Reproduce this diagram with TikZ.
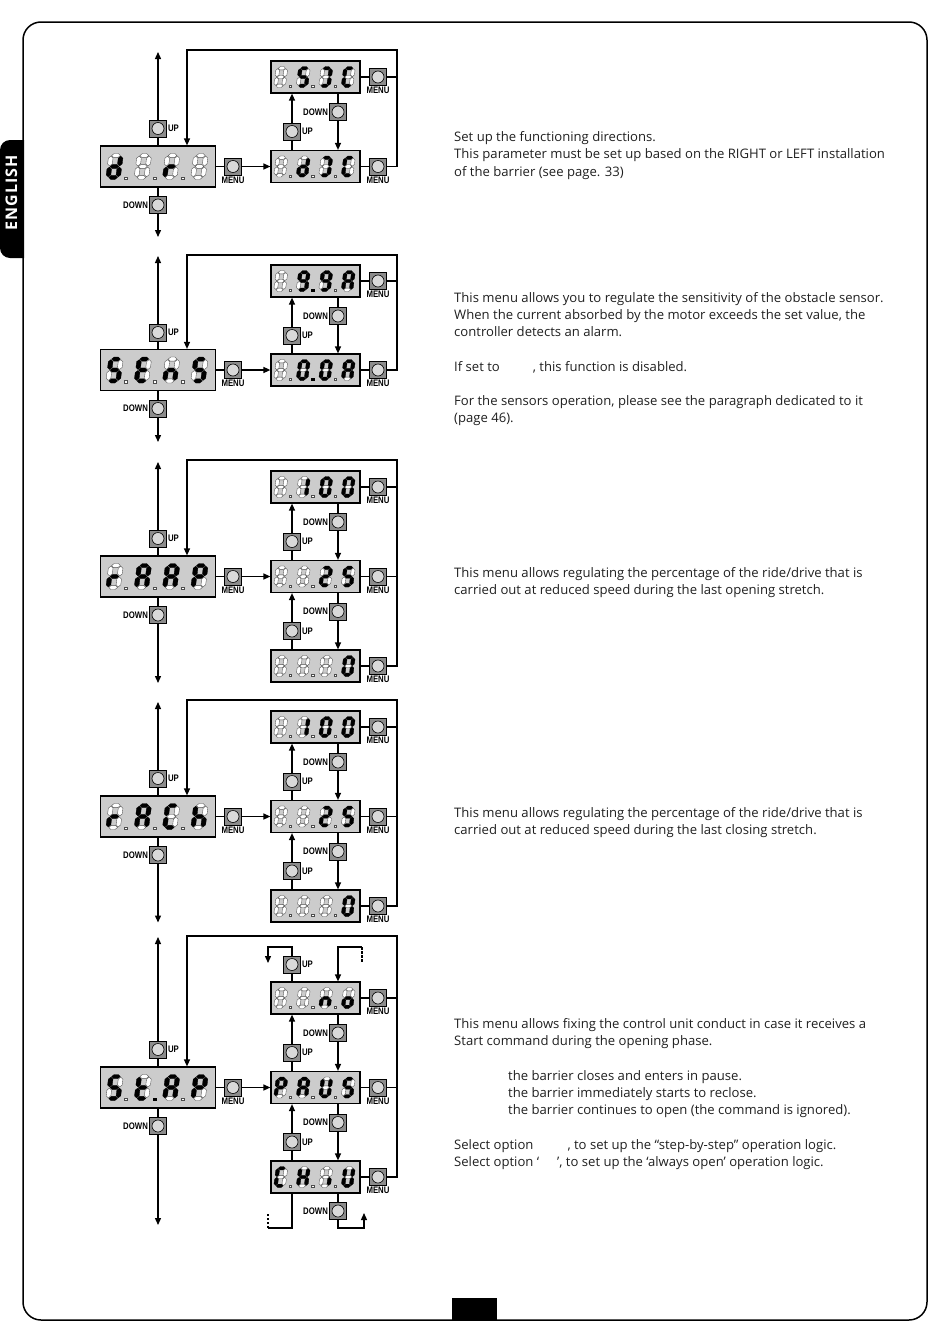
\documentclass[tikz,border=0pt]{standalone}
\usepackage{fontspec}
\setmainfont{Open Sans}
\newfontfamily\lblfont[FakeStretch=0.82]{Liberation Sans}
\newfontfamily\tabfont[LetterSpace=6]{Open Sans}
\usetikzlibrary{arrows.meta}
\definecolor{dispfill}{gray}{0.80}
\definecolor{btnfill}{gray}{0.55}
\definecolor{knob}{gray}{0.85}
\definecolor{txtcol}{gray}{0.12}
\tikzset{
 ln/.style={line width=1.3pt},
 arr/.style={ln,-{Triangle[length=7pt,width=6pt]}},
 dispM/.style={draw,line width=1.2pt,fill=dispfill,minimum width=115pt,minimum height=41pt,inner sep=0pt},
 dispR/.style={draw,line width=1.2pt,fill=dispfill,minimum width=89pt,minimum height=32pt,inner sep=0pt},
 btn/.style={draw,line width=0.8pt,fill=btnfill,minimum size=17pt,inner sep=0pt,
   path picture={\filldraw[fill=knob,line width=0.6pt] (path picture bounding box.center) circle (6pt);}},
 lbl/.style={font=\lblfont\bfseries\fontsize{9.5}{10}\selectfont,inner sep=1pt},
 segon/.style={fill=black,draw=black,line width=0.3pt},
 segoff/.style={fill=white,draw=black!70,line width=0.35pt},
 txt/.style={font=\fontsize{13.1}{15}\selectfont,text=txtcol,inner sep=0pt,anchor=base west},
}
\makeatletter
\newcommand\segx[3]{\in@{#1}{#2}\ifin@\filldraw[segon] #3;\else\filldraw[segoff] #3;\fi}
\newcommand\sdigit[4]{%
 \begin{scope}[shift={(#1,#2)},x={(1.12*#3pt,0pt)},y={(0.13*#3pt,#3pt)}]
 \segx{a}{#4}{(-0.30,0.84)--(-0.14,1.0)--(0.14,1.0)--(0.30,0.84)--(0.14,0.68)--(-0.14,0.68)--cycle}
 \segx{g}{#4}{(-0.30,0)--(-0.14,0.16)--(0.14,0.16)--(0.30,0)--(0.14,-0.16)--(-0.14,-0.16)--cycle}
 \segx{d}{#4}{(-0.30,-0.84)--(-0.14,-0.68)--(0.14,-0.68)--(0.30,-0.84)--(0.14,-1.0)--(-0.14,-1.0)--cycle}
 \segx{f}{#4}{(-0.34,0.04)--(-0.18,0.20)--(-0.18,0.64)--(-0.34,0.80)--(-0.50,0.64)--(-0.50,0.20)--cycle}
 \segx{b}{#4}{(0.34,0.04)--(0.50,0.20)--(0.50,0.64)--(0.34,0.80)--(0.18,0.64)--(0.18,0.20)--cycle}
 \segx{e}{#4}{(-0.34,-0.80)--(-0.18,-0.64)--(-0.18,-0.20)--(-0.34,-0.04)--(-0.50,-0.20)--(-0.50,-0.64)--cycle}
 \segx{c}{#4}{(0.34,-0.80)--(0.50,-0.64)--(0.50,-0.20)--(0.34,-0.04)--(0.18,-0.20)--(0.18,-0.64)--cycle}
 \in@{q}{#4}\ifin@\else\segx{p}{#4}{(0.80,-1.0) rectangle (0.98,-0.80)}\fi
 \end{scope}}
\makeatother
\newcommand\sdisp[7]{%
 \begin{scope}[shift={(#1.center)}]
 \sdigit{-1.5*#3-1}{0}{#2}{#4}
 \sdigit{-0.5*#3-1}{0}{#2}{#5}
 \sdigit{0.5*#3-1}{0}{#2}{#6}
 \sdigit{1.5*#3-1}{0}{#2}{#7q}
 \end{scope}}
\begin{document}
\begin{tikzpicture}[x=1pt,y=-1pt]
\useasboundingbox (0,0) rectangle (950,1344);
% frame
\draw[line width=1.5pt,rounded corners=18pt] (23,22) rectangle (927,1320);
\fill (24,140) -- (10,140) arc[start angle=270,end angle=180,radius=10] -- (0,248) arc[start angle=180,end angle=90,radius=10] -- (24,258) -- cycle;
\node[rotate=90,text=white,font=\tabfont\bfseries\fontsize{16}{16}\selectfont,inner sep=0pt] (tab) at (11.5,193) {ENGLISH};
\fill (452,1298) rectangle (497,1320);

% ================= Block A (dir)
\node[dispM] (Am) at (158,166.5) {};
\node[btn,label={[lbl]east:UP}] (Au) at (158,128.5) {};
\node[btn,label={[lbl]west:DOWN}] (Ad) at (158,205) {};
\node[btn,label={[lbl]below:MENU}] (Amm) at (233,166.5) {};
\node[dispR] (Ar1) at (315.5,77) {};
\node[dispR] (Ar2) at (315.5,166.5) {};
\node[btn,label={[lbl]below:MENU}] (Amr1) at (378,77) {};
\node[btn,label={[lbl]below:MENU}] (Amr2) at (378,166.5) {};
\node[btn,label={[lbl]east:UP}] (Au1) at (292,131.5) {};
\node[btn,label={[lbl]west:DOWN}] (Ad1) at (338,112) {};
\coordinate (Aut) at (158,52);
\coordinate (Adt) at (158,237);
\coordinate (Alt) at (397,50);
\coordinate (Ain) at (187,50);
\draw[ln] (Am) -- (Au); \draw[arr] (Au) -- (Aut);
\draw[ln] (Am) -- (Ad); \draw[arr] (Ad) -- (Adt);
\draw[ln] (Am) -- (Amm); \draw[arr] (Amm) -- (Ar2);
\draw[ln] (Ar1) -- (Amr1); \draw[ln] (Ar2) -- (Amr2);
\draw[ln] (Amr1) -- (Amr1 -| Alt);
\draw[arr] (Amr2) -- (Amr2 -| Alt) -- (Alt) -- (Ain) -- (Ain |- Am.north);
\draw[ln] (Ar2.north -| Au1) -- (Au1); \draw[arr] (Au1) -- (Ar1.south -| Au1);
\draw[ln] (Ar1.south -| Ad1) -- (Ad1); \draw[arr] (Ad1) -- (Ar2.north -| Ad1);
\sdisp{Am}{13}{28.3}{bcdeg}{}{eg}{}
\sdisp{Ar1}{10.5}{22.5}{}{acdfg}{abcd}{adef}
\sdisp{Ar2}{10.5}{22.5}{}{bcdeg}{abcd}{adef}

% ================= Block B (sens)
\node[dispM] (Bm) at (158,370) {};
\node[btn,label={[lbl]east:UP}] (Bu) at (158,332.5) {};
\node[btn,label={[lbl]west:DOWN}] (Bd) at (158,408.5) {};
\node[btn,label={[lbl]below:MENU}] (Bmm) at (233,370) {};
\node[dispR] (Br1) at (315.5,281) {};
\node[dispR] (Br2) at (315.5,370) {};
\node[btn,label={[lbl]below:MENU}] (Bmr1) at (378,281) {};
\node[btn,label={[lbl]below:MENU}] (Bmr2) at (378,370) {};
\node[btn,label={[lbl]east:UP}] (Bu1) at (292,335.5) {};
\node[btn,label={[lbl]west:DOWN}] (Bd1) at (338,316) {};
\coordinate (But) at (158,256);
\coordinate (Bdt) at (158,442);
\coordinate (Blt) at (397,255);
\coordinate (Bin) at (187,255);
\draw[ln] (Bm) -- (Bu); \draw[arr] (Bu) -- (But);
\draw[ln] (Bm) -- (Bd); \draw[arr] (Bd) -- (Bdt);
\draw[ln] (Bm) -- (Bmm); \draw[arr] (Bmm) -- (Br2);
\draw[ln] (Br1) -- (Bmr1); \draw[ln] (Br2) -- (Bmr2);
\draw[ln] (Bmr1) -- (Bmr1 -| Blt);
\draw[arr] (Bmr2) -- (Bmr2 -| Blt) -- (Blt) -- (Bin) -- (Bin |- Bm.north);
\draw[ln] (Br2.north -| Bu1) -- (Bu1); \draw[arr] (Bu1) -- (Br1.south -| Bu1);
\draw[ln] (Br1.south -| Bd1) -- (Bd1); \draw[arr] (Bd1) -- (Br2.north -| Bd1);
\sdisp{Bm}{13}{28.3}{acdfg}{adefg}{ceg}{acdfg}
\sdisp{Br1}{10.5}{22.5}{}{abcdfgp}{abcdfg}{abcefg}
\sdisp{Br2}{10.5}{22.5}{}{abcdefp}{abcdef}{abcefg}

% ================= Block C (rAAP)
\node[dispM] (Cm) at (158,576.5) {};
\node[btn,label={[lbl]east:UP}] (Cu) at (158,538.5) {};
\node[btn,label={[lbl]west:DOWN}] (Cd) at (158,615) {};
\node[btn,label={[lbl]below:MENU}] (Cmm) at (233,576.5) {};
\node[dispR] (Cr1) at (315.5,487) {};
\node[dispR] (Cr2) at (315.5,576.5) {};
\node[dispR] (Cr3) at (315.5,666) {};
\node[btn,label={[lbl]below:MENU}] (Cmr1) at (378,487) {};
\node[btn,label={[lbl]below:MENU}] (Cmr2) at (378,576.5) {};
\node[btn,label={[lbl]below:MENU}] (Cmr3) at (378,666) {};
\node[btn,label={[lbl]east:UP}] (Cu1) at (292,541.5) {};
\node[btn,label={[lbl]west:DOWN}] (Cd1) at (338,522) {};
\node[btn,label={[lbl]east:UP}] (Cu2) at (292,631) {};
\node[btn,label={[lbl]west:DOWN}] (Cd2) at (338,611.5) {};
\coordinate (Cut) at (158,462);
\coordinate (Cdt) at (158,683);
\coordinate (Clt) at (397,460);
\coordinate (Cin) at (187,460);
\draw[ln] (Cm) -- (Cu); \draw[arr] (Cu) -- (Cut);
\draw[ln] (Cm) -- (Cd); \draw[arr] (Cd) -- (Cdt);
\draw[ln] (Cm) -- (Cmm); \draw[arr] (Cmm) -- (Cr2);
\draw[ln] (Cr1) -- (Cmr1); \draw[ln] (Cr2) -- (Cmr2); \draw[ln] (Cr3) -- (Cmr3);
\draw[ln] (Cmr1) -- (Cmr1 -| Clt); \draw[ln] (Cmr2) -- (Cmr2 -| Clt);
\draw[arr] (Cmr3) -- (Cmr3 -| Clt) -- (Clt) -- (Cin) -- (Cin |- Cm.north);
\draw[ln] (Cr2.north -| Cu1) -- (Cu1); \draw[arr] (Cu1) -- (Cr1.south -| Cu1);
\draw[ln] (Cr1.south -| Cd1) -- (Cd1); \draw[arr] (Cd1) -- (Cr2.north -| Cd1);
\draw[ln] (Cr3.north -| Cu2) -- (Cu2); \draw[arr] (Cu2) -- (Cr2.south -| Cu2);
\draw[ln] (Cr2.south -| Cd2) -- (Cd2); \draw[arr] (Cd2) -- (Cr3.north -| Cd2);
\sdisp{Cm}{13}{28.3}{eg}{abcefg}{abcefg}{abefg}
\sdisp{Cr1}{10.5}{22.5}{}{bc}{abcdef}{abcdef}
\sdisp{Cr2}{10.5}{22.5}{}{}{abdeg}{acdfg}
\sdisp{Cr3}{10.5}{22.5}{}{}{}{abcdef}

% ================= Block D (rACh)
\node[dispM] (Dm) at (158,816.5) {};
\node[btn,label={[lbl]east:UP}] (Du) at (158,778.5) {};
\node[btn,label={[lbl]west:DOWN}] (Dd) at (158,855) {};
\node[btn,label={[lbl]below:MENU}] (Dmm) at (233,816.5) {};
\node[dispR] (Dr1) at (315.5,727) {};
\node[dispR] (Dr2) at (315.5,816.5) {};
\node[dispR] (Dr3) at (315.5,906) {};
\node[btn,label={[lbl]below:MENU}] (Dmr1) at (378,727) {};
\node[btn,label={[lbl]below:MENU}] (Dmr2) at (378,816.5) {};
\node[btn,label={[lbl]below:MENU}] (Dmr3) at (378,906) {};
\node[btn,label={[lbl]east:UP}] (Du1) at (292,781.5) {};
\node[btn,label={[lbl]west:DOWN}] (Dd1) at (338,762) {};
\node[btn,label={[lbl]east:UP}] (Du2) at (292,871) {};
\node[btn,label={[lbl]west:DOWN}] (Dd2) at (338,851.5) {};
\coordinate (Dut) at (158,702);
\coordinate (Ddt) at (158,922.5);
\coordinate (Dlt) at (397,700);
\coordinate (Din) at (187,700);
\draw[ln] (Dm) -- (Du); \draw[arr] (Du) -- (Dut);
\draw[ln] (Dm) -- (Dd); \draw[arr] (Dd) -- (Ddt);
\draw[ln] (Dm) -- (Dmm); \draw[arr] (Dmm) -- (Dr2);
\draw[ln] (Dr1) -- (Dmr1); \draw[ln] (Dr2) -- (Dmr2); \draw[ln] (Dr3) -- (Dmr3);
\draw[ln] (Dmr1) -- (Dmr1 -| Dlt); \draw[ln] (Dmr2) -- (Dmr2 -| Dlt);
\draw[arr] (Dmr3) -- (Dmr3 -| Dlt) -- (Dlt) -- (Din) -- (Din |- Dm.north);
\draw[ln] (Dr2.north -| Du1) -- (Du1); \draw[arr] (Du1) -- (Dr1.south -| Du1);
\draw[ln] (Dr1.south -| Dd1) -- (Dd1); \draw[arr] (Dd1) -- (Dr2.north -| Dd1);
\draw[ln] (Dr3.north -| Du2) -- (Du2); \draw[arr] (Du2) -- (Dr2.south -| Du2);
\draw[ln] (Dr2.south -| Dd2) -- (Dd2); \draw[arr] (Dd2) -- (Dr3.north -| Dd2);
\sdisp{Dm}{13}{28.3}{eg}{abcefg}{adef}{cefg}
\sdisp{Dr1}{10.5}{22.5}{}{bc}{abcdef}{abcdef}
\sdisp{Dr2}{10.5}{22.5}{}{}{abdeg}{acdfg}
\sdisp{Dr3}{10.5}{22.5}{}{}{}{abcdef}

% ================= Block E (St.AP)
\node[dispM] (Em) at (158,1087.5) {};
\node[btn,label={[lbl]east:UP}] (Eu) at (158,1049.5) {};
\node[btn,label={[lbl]west:DOWN}] (Ed) at (158,1126) {};
\node[btn,label={[lbl]below:MENU}] (Emm) at (233,1087.5) {};
\node[dispR] (Er1) at (315.5,998) {};
\node[dispR] (Er2) at (315.5,1087.5) {};
\node[dispR] (Er3) at (315.5,1177) {};
\node[btn,label={[lbl]below:MENU}] (Emr1) at (378,998) {};
\node[btn,label={[lbl]below:MENU}] (Emr2) at (378,1087.5) {};
\node[btn,label={[lbl]below:MENU}] (Emr3) at (378,1177) {};
\node[btn,label={[lbl]east:UP}] (Eu0) at (292,964.5) {};
\node[btn,label={[lbl]east:UP}] (Eu1) at (292,1052.5) {};
\node[btn,label={[lbl]west:DOWN}] (Ed1) at (338,1033) {};
\node[btn,label={[lbl]east:UP}] (Eu2) at (292,1142) {};
\node[btn,label={[lbl]west:DOWN}] (Ed2) at (338,1122.5) {};
\node[btn,label={[lbl]west:DOWN}] (Ed3) at (338,1211) {};
\coordinate (Eut) at (158,937);
\coordinate (Edt) at (158,1225);
\coordinate (Elt) at (397,936);
\coordinate (Ein) at (187,936);
\draw[ln] (Em) -- (Eu); \draw[arr] (Eu) -- (Eut);
\draw[ln] (Em) -- (Ed); \draw[arr] (Ed) -- (Edt);
\draw[ln] (Em) -- (Emm); \draw[arr] (Emm) -- (Er2);
\draw[ln] (Er1) -- (Emr1); \draw[ln] (Er2) -- (Emr2); \draw[ln] (Er3) -- (Emr3);
\draw[ln] (Emr1) -- (Emr1 -| Elt); \draw[ln] (Emr2) -- (Emr2 -| Elt);
\draw[arr] (Emr3) -- (Emr3 -| Elt) -- (Elt) -- (Ein) -- (Ein |- Em.north);
\draw[ln] (Er2.north -| Eu1) -- (Eu1); \draw[arr] (Eu1) -- (Er1.south -| Eu1);
\draw[ln] (Er1.south -| Ed1) -- (Ed1); \draw[arr] (Ed1) -- (Er2.north -| Ed1);
\draw[ln] (Er3.north -| Eu2) -- (Eu2); \draw[arr] (Eu2) -- (Er2.south -| Eu2);
\draw[ln] (Er2.south -| Ed2) -- (Ed2); \draw[arr] (Ed2) -- (Er3.north -| Ed2);
% wrap-around at top
\coordinate (Ea1) at (292,947); \coordinate (Ea2) at (268,947); \coordinate (Ea3) at (268,963);
\draw[ln] (Er1.north -| Eu0) -- (Eu0); \draw[arr] (Eu0) -- (Ea1) -- (Ea2) -- (Ea3);
\coordinate (Eb1) at (362,947); \coordinate (Eb2) at (338,947); \coordinate (Eb3) at (362,963);
\draw[arr] (Eb1) -- (Eb2) -- (Eb2 |- Er1.north);
\draw[ln,dash pattern=on 2.5pt off 1.5pt] (Eb1) -- (Eb3);
% wrap-around at bottom
\coordinate (Ec1) at (338,1228); \coordinate (Ec2) at (364,1228); \coordinate (Ec3) at (364,1213);
\draw[ln] (Er3.south -| Ed3) -- (Ed3); \draw[arr] (Ed3) -- (Ec1) -- (Ec2) -- (Ec3);
\coordinate (Ee1) at (292,1228); \coordinate (Ee2) at (268,1228); \coordinate (Ee3) at (268,1212);
\draw[ln] (Er3.south -| Ee1) -- (Ee1) -- (Ee2);
\draw[ln,dash pattern=on 2.5pt off 1.5pt] (Ee2) -- (Ee3);
\sdisp{Em}{13}{28.3}{acdfg}{defgp}{abcefg}{abefg}
\sdisp{Er1}{10.5}{22.5}{}{}{ceg}{cdeg}
\sdisp{Er2}{10.5}{22.5}{abefg}{abcefg}{bcdef}{acdfg}
\sdisp{Er3}{10.5}{22.5}{adef}{bcefg}{c}{bcdef}

% ================= Texts
\node[txt] (t1) at (454,141) {Set up the functioning directions.};
\node[txt] (t2) at (454,158) {This parameter must be set up based on the RIGHT or LEFT installation};
\node[txt] (t3) at (454,176) {of the barrier (see page. 33)};
\node[txt] (t4) at (454,302) {This menu allows you to regulate the sensitivity of the obstacle sensor.};
\node[txt] (t5) at (454,319) {When the current absorbed by the motor exceeds the set value, the};
\node[txt] (t6) at (454,336) {controller detects an alarm.};
\node[txt] (t7) at (454,371) {If set to\hspace{33pt}, this function is disabled.};
\node[txt] (t8) at (454,405) {For the sensors operation, please see the paragraph dedicated to it};
\node[txt] (t9) at (454,422) {(page 46).};
\node[txt] (t10) at (454,577) {This menu allows regulating the percentage of the ride/drive that is};
\node[txt] (t11) at (454,594) {carried out at reduced speed during the last opening stretch.};
\node[txt] (t12) at (454,817) {This menu allows regulating the percentage of the ride/drive that is};
\node[txt] (t13) at (454,834) {carried out at reduced speed during the last closing stretch.};
\node[txt] (t14) at (454,1028) {This menu allows fixing the control unit conduct in case it receives a};
\node[txt] (t15) at (454,1045) {Start command during the opening phase.};
\node[txt] (t16) at (508,1080) {the barrier closes and enters in pause.};
\node[txt] (t17) at (508,1097) {the barrier immediately starts to reclose.};
\node[txt] (t18) at (508,1114) {the barrier continues to open (the command is ignored).};
\node[txt] (t19) at (454,1149) {Select option\hspace{34pt}, to set up the “step-by-step” operation logic.};
\node[txt] (t20) at (454,1166) {Select option ‘\hspace{18pt}’, to set up the ‘always open’ operation logic.};
\end{tikzpicture}
\end{document}
